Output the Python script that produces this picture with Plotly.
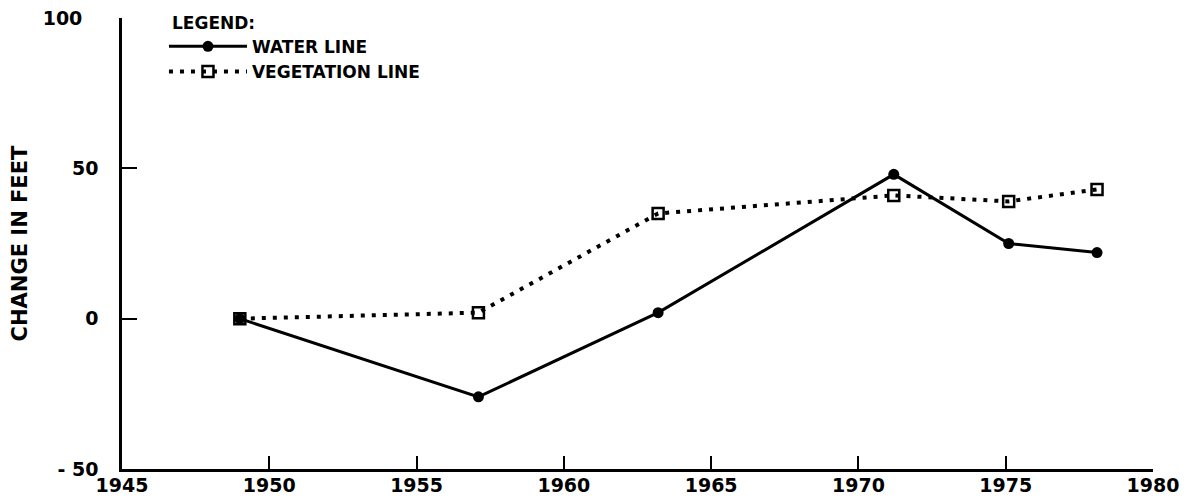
import plotly.graph_objects as go

years = [1949, 1957.1, 1963.2, 1971.2, 1975.1, 1978.1]
water_line = [0, -26, 2, 48, 25, 22]
vegetation_line = [0, 2, 35, 41, 39, 43]

x_ticks = [1945, 1950, 1955, 1960, 1965, 1970, 1975, 1980]
y_ticks = [-50, 0, 50, 100]
y_tick_text = ["- 50", "0", "50", "100\u2002\u00a0"]

FONT = "DejaVu Sans"

fig = go.Figure()
fig.add_trace(go.Scatter(
    x=years, y=water_line, name="WATER LINE", mode="lines+markers",
    line=dict(color="black", width=3),
    marker=dict(symbol="circle", size=11, color="black"),
))
fig.add_trace(go.Scatter(
    x=years, y=vegetation_line, name="VEGETATION LINE", mode="lines+markers",
    line=dict(color="black", width=4, dash="4px,7px"),
    marker=dict(symbol="square-open", size=11, color="black", line=dict(width=2.5, color="black")),
))

# the page body has an 8px margin, so the figure is sized to fit the 1198x498 window
fig.update_layout(
    width=1190, height=490,
    margin=dict(l=114, r=45, t=10, b=29),
    paper_bgcolor="white", plot_bgcolor="white",
    font=dict(family=FONT, size=18, color="black", weight="bold"),
    showlegend=True,
    legend=dict(
        x=0.0407, y=0.976, xanchor="left", yanchor="top",
        bgcolor="rgba(0,0,0,0)",
        font=dict(family=FONT, size=17, weight="bold"),
        itemwidth=78,
    ),
    annotations=[dict(
        text="LEGEND:", xref="paper", yref="paper", x=0.0466, y=0.989,
        xanchor="left", yanchor="middle", showarrow=False,
        font=dict(family=FONT, size=17, weight="bold", color="black"),
    )],
    xaxis=dict(
        range=[1945, 1980], tickvals=x_ticks, ticktext=[str(v) for v in x_ticks],
        showgrid=False, zeroline=False, showline=True, linecolor="black", linewidth=2.5,
        ticks="inside", ticklen=13, tickwidth=2, tickcolor="black",
        tickfont=dict(family=FONT, size=19, weight="bold"),
        ticklabelstandoff=-3, ticklabeloverflow="allow",
        automargin=False,
    ),
    yaxis=dict(
        range=[-50, 100], tickvals=y_ticks, ticktext=y_tick_text,
        showgrid=False, zeroline=False, showline=True, linecolor="black", linewidth=2.5,
        ticks="inside", ticklen=15, tickwidth=2, tickcolor="black",
        tickfont=dict(family=FONT, size=19, weight="bold"),
        ticklabelstandoff=17, ticklabeloverflow="allow",
        title=dict(text="CHANGE IN FEET", font=dict(family=FONT, size=21, weight="bold"), standoff=42),
        automargin=False,
    ),
)

fig.write_html("out.html")
